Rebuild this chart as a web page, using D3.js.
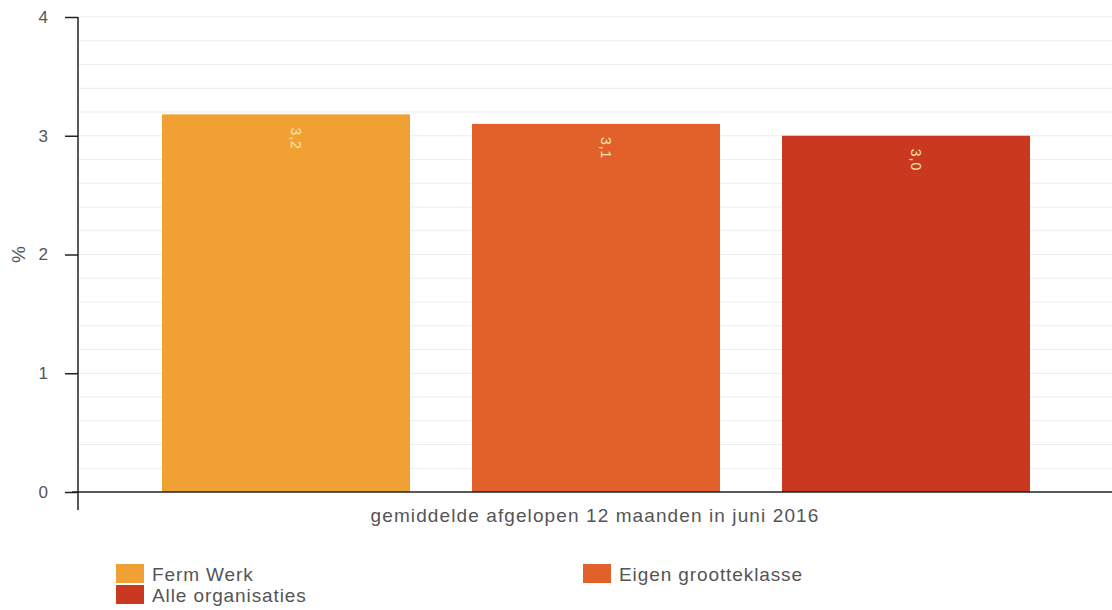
<!DOCTYPE html>
<html>
<head>
<meta charset="utf-8">
<script src="https://cdn.jsdelivr.net/npm/d3@7"></script>
<style>
  body { margin: 0; background: #fff; font-family: "Liberation Sans", Arial, sans-serif; }
  .eje line, .eje path { stroke: #222; stroke-width: 1.5px; }
</style>
</head>
<body>
<div id="graf"></div>
<script>
// datos
groepen = ['Ferm Werk', 'Eigen grootteklasse', 'Alle organisaties']
waarden = [3.18, 3.1, 3.0]
labels  = ['3,2', '3,1', '3,0']
kleuren = ['#f1a133', '#e2602a', '#c9381f']
categorie = ['gemiddelde afgelopen 12 maanden in juni 2016']
yTicks = [0, 1, 2, 3, 4]

ancho_total = 1112
alto_total = 610
margins = { top: 17, left: 78, right: 0, bottom: 118 }
ancho = ancho_total - margins.left - margins.right
alto  = alto_total - margins.top - margins.bottom

svg = d3.select('#graf').append('svg')
        .attr('width', ancho_total)
        .attr('height', alto_total)

g = svg.append('g')
       .attr('transform', `translate(${ margins.left }, ${ margins.top })`)

y = d3.scaleLinear().domain([0, 4]).range([alto, 0])

// banda de la categoria y sub-banda por grupo
x0 = d3.scaleBand().domain(categorie).range([0, ancho]).paddingOuter(0)
x1 = d3.scaleBand().domain(groepen).range([84, 952]).paddingInner(0.2)

// lineas de fondo
g.append('g')
 .selectAll('line')
 .data(d3.range(0.2, 4.01, 0.2))
 .join('line')
   .attr('x1', 0)
   .attr('x2', ancho)
   .attr('y1', d => y(d))
   .attr('y2', d => y(d))
   .attr('stroke', '#ececec')
   .attr('stroke-width', 1)

// barras
g.selectAll('rect.bar')
 .data(groepen)
 .join('rect')
   .attr('class', 'bar')
   .attr('x', d => x1(d))
   .attr('y', (d, i) => y(waarden[i]))
   .attr('width', x1.bandwidth())
   .attr('height', (d, i) => alto - y(waarden[i]))
   .attr('fill', (d, i) => kleuren[i])

// etiquetas giradas
g.selectAll('text.val')
 .data(groepen)
 .join('text')
   .attr('class', 'val')
   .attr('transform', (d, i) => `translate(${ x1(d) + x1.bandwidth() / 2 + 5 }, ${ y(waarden[i]) + 13 }) rotate(90)`)
   .attr('fill', '#f6e6b8')
   .style('font-size', '14px')
   .style('letter-spacing', '1px')
   .text((d, i) => labels[i])

// ejes
yAxisGroup = g.append('g').attr('class', 'eje')
yAxisGroup.call(d3.axisLeft(y).tickValues(yTicks).tickFormat(d3.format('d'))
                  .tickSize(13).tickSizeOuter(0).tickPadding(17))
yAxisGroup.select('.domain').remove()
yAxisGroup.selectAll('text')
  .attr('fill', '#555')
  .style('font-family', '"Liberation Sans", Arial, sans-serif')
  .style('font-size', '17px')
yAxisGroup.append('line')
  .attr('x1', 0).attr('x2', 0)
  .attr('y1', 0).attr('y2', alto + 18)

xAxisGroup = g.append('g')
  .attr('class', 'eje')
  .attr('transform', `translate(0, ${ alto })`)
xAxisGroup.call(d3.axisBottom(x0).tickSize(0).tickSizeOuter(0).tickPadding(17))
xAxisGroup.select('.domain').attr('d', `M-6,0H${ ancho }`)
xAxisGroup.selectAll('text')
  .attr('fill', '#555')
  .style('font-family', '"Liberation Sans", Arial, sans-serif')
  .style('font-size', '19px')
  .style('letter-spacing', '1.1px')

// titulo eje y
svg.append('text')
   .attr('transform', `translate(25, ${ margins.top + y(2) }) rotate(-90)`)
   .attr('text-anchor', 'middle')
   .attr('fill', '#555')
   .style('font-size', '19px')
   .text('%')

// leyenda
legendPos = [[116, 564], [583, 564], [116, 585]]
leg = svg.append('g')
  .selectAll('g')
  .data(groepen)
  .join('g')
    .attr('transform', (d, i) => `translate(${ legendPos[i][0] }, ${ legendPos[i][1] })`)
leg.append('rect')
   .attr('width', 28)
   .attr('height', 19)
   .attr('fill', (d, i) => kleuren[i])
leg.append('text')
   .attr('x', 36)
   .attr('y', 17)
   .attr('fill', '#555')
   .style('font-size', '19px')
   .style('letter-spacing', '0.9px')
   .text(d => d)
</script>
</body>
</html>
